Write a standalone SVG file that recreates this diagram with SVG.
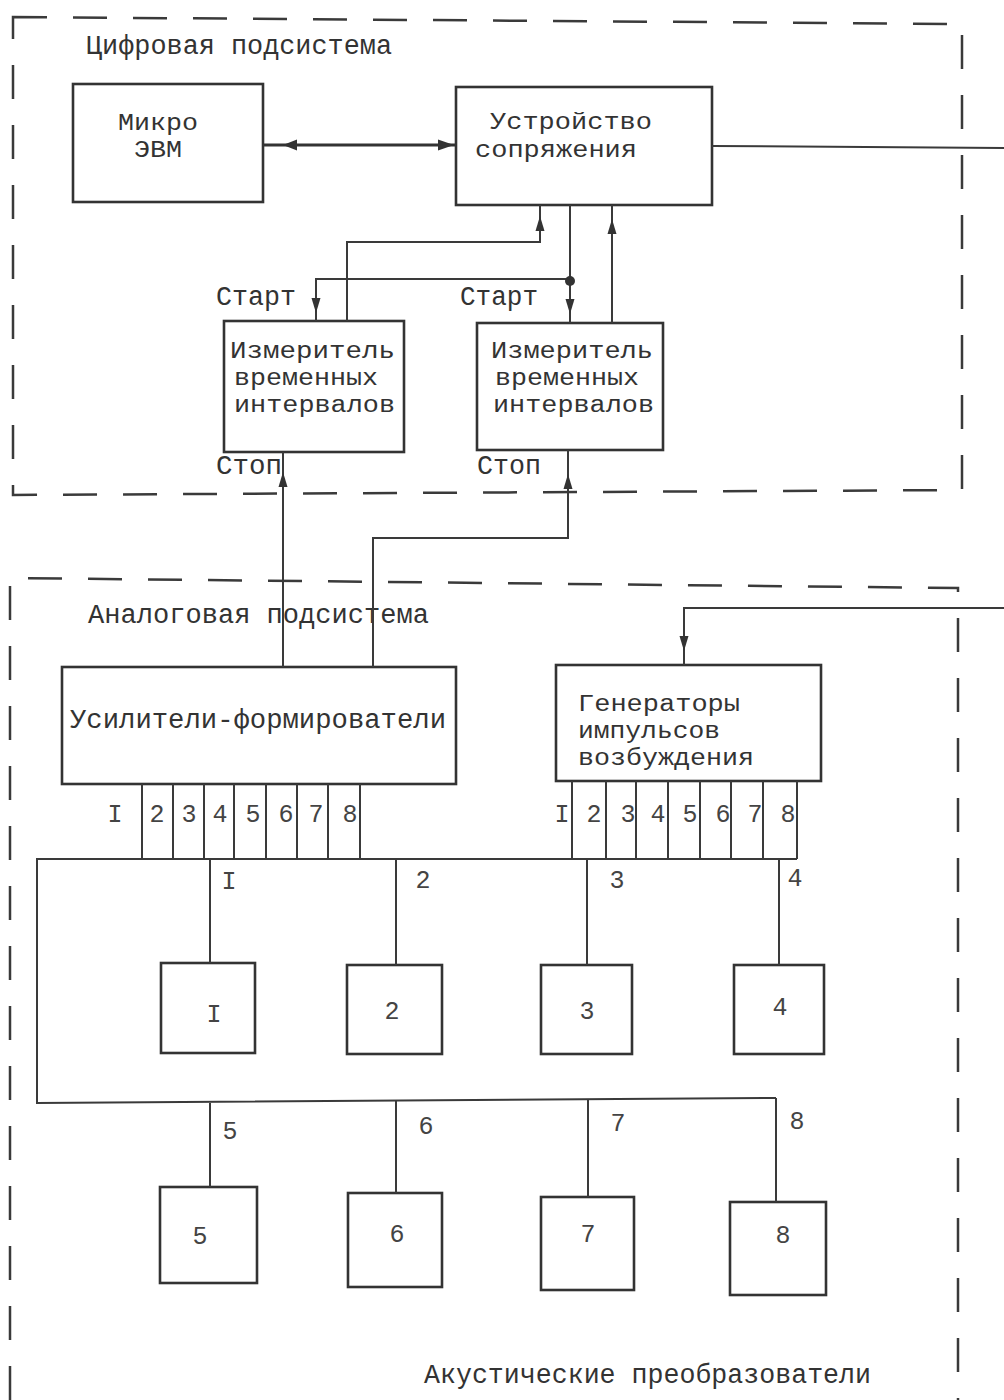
<svg xmlns="http://www.w3.org/2000/svg" width="1004" height="1400" viewBox="0 0 1004 1400">
<style>
.frame{fill:none;stroke:#3a3a3a;stroke-width:2.5;stroke-dasharray:34 26}
.box{fill:none;stroke:#333;stroke-width:2.6}
.ln{fill:none;stroke:#3a3a3a;stroke-width:2}
.t{font-family:"Liberation Mono","DejaVu Sans Mono",monospace;font-size:27px;fill:#333}
.m{font-family:"Liberation Mono","DejaVu Sans Mono",monospace;font-size:23.5px;fill:#333}
.n{font-family:"Liberation Mono","DejaVu Sans Mono",monospace;font-size:25px;fill:#444;text-anchor:middle}
.ah{fill:#333}
</style>
<defs>
<path id="up" d="M0,0 L-4.5,15 L4.5,15 Z"/>
<path id="dn" d="M0,0 L-4.5,-15 L4.5,-15 Z"/>
</defs>
<rect width="1004" height="1400" fill="#ffffff"/>

<g id="digital-subsystem">
<path class="frame" d="M13,17 L962,24 L962,490 L13,495 Z"/>
<text class="t" x="86" y="54" textLength="306" lengthAdjust="spacingAndGlyphs">Цифровая подсистема</text>
</g>

<g id="analog-subsystem">
<path class="frame" d="M10,1400 L10,578 L958,588 L958,1400"/>
<text class="t" x="88" y="623" textLength="341" lengthAdjust="spacingAndGlyphs">Аналоговая подсистема</text>
<text class="t" x="424" y="1383" textLength="447" lengthAdjust="spacingAndGlyphs">Акустические преобразователи</text>
</g>

<g id="micro-evm">
<rect class="box" x="73" y="84" width="190" height="118"/>
<text class="m" x="118" y="130" textLength="80" lengthAdjust="spacingAndGlyphs">Микро</text>
<text class="m" x="134" y="157" textLength="48" lengthAdjust="spacingAndGlyphs">ЭВМ</text>
</g>

<g id="interface-device">
<rect class="box" x="456" y="87" width="256" height="118"/>
<text class="m" x="490" y="129" textLength="162" lengthAdjust="spacingAndGlyphs">Устройство</text>
<text class="m" x="475" y="157" textLength="162" lengthAdjust="spacingAndGlyphs">сопряжения</text>
</g>

<g id="timer-1">
<rect class="box" x="224" y="321" width="180" height="131"/>
<text class="m" x="230" y="358" textLength="165" lengthAdjust="spacingAndGlyphs">Измеритель</text>
<text class="m" x="234" y="385" textLength="144" lengthAdjust="spacingAndGlyphs">временных</text>
<text class="m" x="234" y="412" textLength="161" lengthAdjust="spacingAndGlyphs">интервалов</text>
<text class="t" x="216" y="305" textLength="80" lengthAdjust="spacingAndGlyphs">Старт</text>
<text class="t" x="216" y="474" textLength="66" lengthAdjust="spacingAndGlyphs">Стоп</text>
</g>

<g id="timer-2">
<rect class="box" x="477" y="323" width="186" height="127"/>
<text class="m" x="491" y="358" textLength="162" lengthAdjust="spacingAndGlyphs">Измеритель</text>
<text class="m" x="495" y="385" textLength="144" lengthAdjust="spacingAndGlyphs">временных</text>
<text class="m" x="493" y="412" textLength="161" lengthAdjust="spacingAndGlyphs">интервалов</text>
<text class="t" x="460" y="305" textLength="78" lengthAdjust="spacingAndGlyphs">Старт</text>
<text class="t" x="477" y="474" textLength="64" lengthAdjust="spacingAndGlyphs">Стоп</text>
</g>

<g id="amplifiers">
<rect class="box" x="62" y="667" width="394" height="117"/>
<text class="t" x="70" y="728" textLength="376" lengthAdjust="spacingAndGlyphs">Усилители-формирователи</text>
<g class="n">
<text x="115" y="822">I</text><text x="157" y="822">2</text><text x="189" y="822">3</text><text x="220" y="822">4</text>
<text x="253" y="822">5</text><text x="286" y="822">6</text><text x="316" y="822">7</text><text x="350" y="822">8</text>
</g>
</g>

<g id="generators">
<rect class="box" x="556" y="665" width="265" height="116"/>
<text class="m" x="578" y="711" textLength="162" lengthAdjust="spacingAndGlyphs">Генераторы</text>
<text class="m" x="578" y="738" textLength="142" lengthAdjust="spacingAndGlyphs">импульсов</text>
<text class="m" x="578" y="765" textLength="176" lengthAdjust="spacingAndGlyphs">возбуждения</text>
<g class="n">
<text x="562" y="822">I</text><text x="594" y="822">2</text><text x="628" y="822">3</text><text x="658" y="822">4</text>
<text x="690" y="822">5</text><text x="723" y="822">6</text><text x="755" y="822">7</text><text x="788" y="822">8</text>
</g>
</g>

<g id="transducer-1"><rect class="box" x="161" y="963" width="94" height="90"/><text class="n" x="214" y="1022">I</text></g>
<g id="transducer-2"><rect class="box" x="347" y="965" width="95" height="89"/><text class="n" x="392" y="1019">2</text></g>
<g id="transducer-3"><rect class="box" x="541" y="965" width="91" height="89"/><text class="n" x="587" y="1019">3</text></g>
<g id="transducer-4"><rect class="box" x="734" y="965" width="90" height="89"/><text class="n" x="780" y="1015">4</text></g>
<g id="transducer-5"><rect class="box" x="160" y="1187" width="97" height="96"/><text class="n" x="200" y="1244">5</text></g>
<g id="transducer-6"><rect class="box" x="348" y="1193" width="94" height="94"/><text class="n" x="397" y="1242">6</text></g>
<g id="transducer-7"><rect class="box" x="541" y="1197" width="93" height="93"/><text class="n" x="588" y="1242">7</text></g>
<g id="transducer-8"><rect class="box" x="730" y="1202" width="96" height="93"/><text class="n" x="783" y="1243">8</text></g>

<g id="connectors">
<line x1="263" y1="145" x2="456" y2="145" stroke="#333" stroke-width="3"/>
<polygon class="ah" points="283,145 297,139.5 297,150.5"/>
<polygon class="ah" points="454,145 438,139.5 438,150.5"/>
<path class="ln" d="M712,146 L1004,148"/>
<path class="ln" d="M347,321 L347,242 L540,242 L540,205"/>
<use href="#up" class="ah" x="540" y="216"/>
<path class="ln" d="M570,205 L570,323"/>
<path class="ln" d="M570,279 L316,279 L316,321"/>
<circle class="ah" cx="570" cy="281" r="5"/>
<use href="#dn" class="ah" x="316" y="313"/>
<use href="#dn" class="ah" x="570" y="314"/>
<path class="ln" d="M612,323 L612,205"/>
<use href="#up" class="ah" x="612" y="219"/>
<path class="ln" d="M283,667 L283,452"/>
<use href="#up" class="ah" x="283" y="472"/>
<path class="ln" d="M373,667 L373,538 L568,538 L568,450"/>
<use href="#up" class="ah" x="568" y="474"/>
<path class="ln" d="M1004,608 L684,608 L684,665"/>
<use href="#dn" class="ah" x="684" y="651"/>
<path class="ln" d="M142,784V859M173,784V859M204,784V859M234,784V859M266,784V859M297,784V859M328,784V859M360,784V859"/>
<path class="ln" d="M572,781V859M606,781V859M636,781V859M668,781V859M700,781V859M731,781V859M763,781V859M797,781V859"/>
<path class="ln" d="M797,859 L37,859 L37,1103 L776,1098"/>
<path class="ln" d="M210,859V963M396,859V965M587,859V965M779,859V965"/>
<path class="ln" d="M210,1103V1187M396,1101V1193M588,1100V1197M776,1098V1202"/>
<g class="n">
<text x="229" y="889">I</text><text x="423" y="888">2</text><text x="617" y="888">3</text><text x="795" y="886">4</text>
<text x="230" y="1139">5</text><text x="426" y="1134">6</text><text x="618" y="1131">7</text><text x="797" y="1129">8</text>
</g>
</g>
</svg>
